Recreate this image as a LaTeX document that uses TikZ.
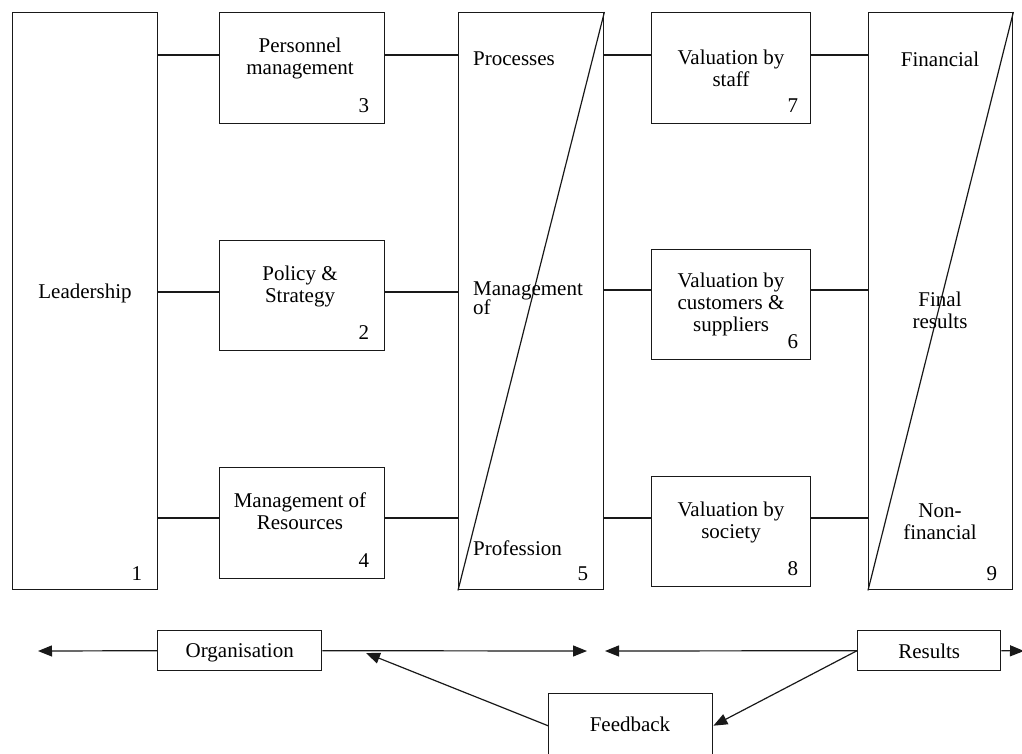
\documentclass[tikz,border=0pt]{standalone}
\usepackage{fontspec}
\setmainfont{Liberation Serif}
\usetikzlibrary{arrows.meta,calc}
\newcommand\dgfont{\fontsize{21}{22}\selectfont}
\begin{document}
\begin{tikzpicture}[x=1pt,y=-1pt,
  box/.style={draw=black!90, line width=1.4pt, inner sep=0pt, anchor=north west},
  lbl/.style={font=\dgfont, align=center, inner sep=0pt},
  lbll/.style={font=\dgfont, align=left, inner sep=0pt, anchor=west},
  num/.style={font=\dgfont, inner sep=0pt, anchor=base east},
  conn/.style={draw=black!90, line width=1.2pt},
  arr/.style={conn, -{Triangle[length=14pt,width=11pt]}}]
\useasboundingbox (0,0) rectangle (1022,753);
% boxes
\node[box, minimum width=145pt, minimum height=577pt] (L) at (12,12) {};
\node[box, minimum width=165pt, minimum height=111pt] (B3) at (219,12) {};
\node[box, minimum width=165pt, minimum height=110pt] (B2) at (219,240) {};
\node[box, minimum width=165pt, minimum height=111pt] (B4) at (219,467) {};
\node[box, minimum width=145pt, minimum height=577pt] (B5) at (458,12) {};
\node[box, minimum width=159pt, minimum height=111pt] (B7) at (651,12) {};
\node[box, minimum width=159pt, minimum height=110pt] (B6) at (651,249) {};
\node[box, minimum width=159pt, minimum height=110pt] (B8) at (651,476) {};
\node[box, minimum width=144pt, minimum height=577pt] (B9) at (868,12) {};
% diagonals
\draw[conn] (B5.south west) -- (B5.north east);
\draw[conn] (B9.south west) -- (B9.north east);
% labels
\node[lbl] (tL) at (85,293) {Leadership};
\node[lbl] (t3) at (300,58) {Personnel\\management};
\node[lbl] (t2) at (300,286) {Policy \&\\Strategy};
\node[lbl] (t4) at (300,511) {Management of\\Resources};
\node[lbll] (t5a) at (473,59) {Processes};
\node[lbll] (t5b) at (473,298) {Management\\[-3pt]of};
\node[lbll] (t5c) at (473,548) {Profession};
\node[lbl] (t7) at (731,68) {Valuation by\\staff};
\node[lbl] (t6) at (731,304) {Valuation by\\customers \&\\suppliers};
\node[lbl] (t8) at (731,522) {Valuation by\\society};
\node[lbl] (t9a) at (940,59) {Financial};
\node[lbl] (t9b) at (940,310) {Final\\results};
\node[lbl] (t9c) at (940,522) {Non-\\financial};
% numbers
\node[num] (n1) at ([xshift=-16pt,yshift=10pt]L.south east) {1};
\node[num] (n3) at ([xshift=-16pt,yshift=12pt]B3.south east) {3};
\node[num] (n2) at ([xshift=-16pt,yshift=12pt]B2.south east) {2};
\node[num] (n4) at ([xshift=-16pt,yshift=12pt]B4.south east) {4};
\node[num] (n5) at ([xshift=-16pt,yshift=10pt]B5.south east) {5};
\node[num] (n7) at ([xshift=-13pt,yshift=12pt]B7.south east) {7};
\node[num] (n6) at ([xshift=-13pt,yshift=12pt]B6.south east) {6};
\node[num] (n8) at ([xshift=-13pt,yshift=12pt]B8.south east) {8};
\node[num] (n9) at ([xshift=-16pt,yshift=10pt]B9.south east) {9};
% rows
\coordinate (r1) at (0,55);
\coordinate (r2) at (0,292);
\coordinate (r2b) at (0,290);
\coordinate (r3) at (0,518);
\draw[conn] (L.east |- r1) -- (B3.west |- r1);
\draw[conn] (B3.east |- r1) -- (B5.west |- r1);
\draw[conn] (B5.east |- r1) -- (B7.west |- r1);
\draw[conn] (B7.east |- r1) -- (B9.west |- r1);
\draw[conn] (L.east |- r2) -- (B2.west |- r2);
\draw[conn] (B2.east |- r2) -- (B5.west |- r2);
\draw[conn] (B5.east |- r2b) -- (B6.west |- r2b);
\draw[conn] (B6.east |- r2b) -- (B9.west |- r2b);
\draw[conn] (L.east |- r3) -- (B4.west |- r3);
\draw[conn] (B4.east |- r3) -- (B5.west |- r3);
\draw[conn] (B5.east |- r3) -- (B8.west |- r3);
\draw[conn] (B8.east |- r3) -- (B9.west |- r3);
% bottom
\node[box, minimum width=164pt, minimum height=40pt] (Org) at (157,630) {};
\node[lbl] (tOrg) at ([yshift=-2pt]Org.center) {Organisation};
\node[box, minimum width=143pt, minimum height=40pt] (Res) at (857,630) {};
\node[lbl] (tRes) at ([yshift=-1pt]Res.center) {Results};
\node[box, minimum width=164pt, minimum height=64pt] (FB) at (548,693) {};
\node[lbl] (tFB) at (630,724) {Feedback};
\coordinate (aL) at (38,651);
\coordinate (aM1) at (587,651);
\coordinate (aM2) at (605,651);
\coordinate (aR) at (1024,651);
\coordinate (aFB) at (366,653);
\draw[arr] (Org.west) -- (aL);
\draw[arr] (Org.east) -- (aM1);
\draw[arr] (Res.west) -- (aM2);
\draw[arr] (Res.east) -- (aR);
\draw[arr] (FB.west) -- (aFB);
\draw[arr] (Res.west) -- (FB.east);
\end{tikzpicture}
\end{document}
